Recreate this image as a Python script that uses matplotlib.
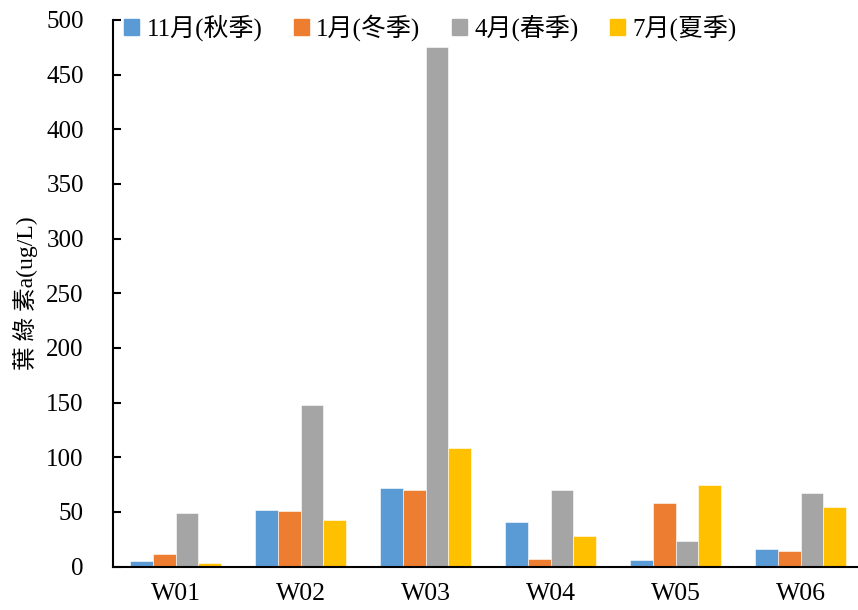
import numpy as np
import matplotlib.pyplot as plt
from matplotlib.patches import Patch

plt.rcParams['font.family'] = ['Liberation Serif', 'Noto Sans CJK TC']

sites = ['W01', 'W02', 'W03', 'W04', 'W05', 'W06']
seasons = ['11月(秋季)', '1月(冬季)', '4月(春季)', '7月(夏季)']
nov = [5, 51.5, 71.5, 40.8, 6, 15.8]
jan = [11.5, 50.5, 69.8, 7.2, 58.2, 13.9]
apr = [48.8, 147.5, 475, 69.8, 23.4, 67.7]
jul = [3, 42.6, 108, 28.2, 74.4, 54.3]
colors = ['#5B9BD5', '#ED7D31', '#A5A5A5', '#FFC000']

fig = plt.figure(figsize=(8.58, 6.10), dpi=100)
ax = fig.add_axes([113 / 858, 43.5 / 610, 750 / 858, 546.5 / 610])

x = np.arange(len(sites))
w = 0.182
for i, vals in enumerate([nov, jan, apr, jul]):
    ax.bar(x + (i - 1.5) * w, vals, w, color=colors[i], edgecolor='white', linewidth=0.4)

ax.set_xlim(-0.5, 5.5)
ax.set_ylim(0, 500)
ax.set_yticks(np.arange(0, 501, 50))
ax.set_xticks(x)
ax.set_xticklabels(sites)

for s in ['top', 'right']:
    ax.spines[s].set_visible(False)
ax.spines['left'].set_linewidth(1.5)
ax.spines['bottom'].set_linewidth(1.5)
ax.tick_params(axis='y', direction='in', length=6, width=1.5, pad=21, labelsize=18)
ax.tick_params(axis='x', length=0, pad=12, labelsize=18.5)

ax.set_ylabel('葉 綠 素a(ug/L)', fontsize=17, labelpad=6)

handles = [Patch(color=c) for c in colors]
fig.legend(handles, seasons, loc='center left', bbox_to_anchor=(124 / 858, 1 - 28 / 610),
           ncol=4, frameon=False, fontsize=18, handlelength=0.6, handleheight=0.6,
           handletextpad=0.3, columnspacing=1.25, borderaxespad=0, borderpad=0)

fig.savefig('out.png', dpi=100)
